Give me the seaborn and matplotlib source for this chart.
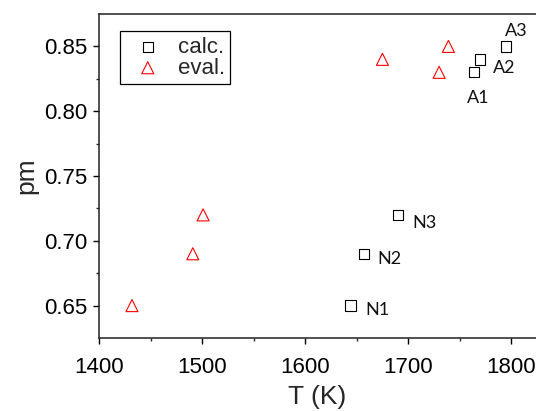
import matplotlib
matplotlib.use("Agg")
import matplotlib.pyplot as plt
import seaborn as sns
import pandas as pd

# calculated values
calc_T = [1644, 1657, 1690, 1764, 1770, 1795]
calc_pm = [0.65, 0.69, 0.72, 0.83, 0.84, 0.85]
calc_names = ["N1", "N2", "N3", "A1", "A2", "A3"]

# evaluated values
eval_T = [1432, 1491, 1501, 1675, 1730, 1739]
eval_pm = [0.65, 0.69, 0.72, 0.84, 0.83, 0.85]

x_ticks = [1400, 1500, 1600, 1700, 1800]
y_ticks = [0.65, 0.70, 0.75, 0.80, 0.85]

sns.set_style("ticks")
plt.rcParams["font.family"] = ["Liberation Sans", "DejaVu Sans"]

calc_df = pd.DataFrame({"T": calc_T, "pm": calc_pm, "name": calc_names})
eval_df = pd.DataFrame({"T": eval_T, "pm": eval_pm})

fig = plt.figure(figsize=(5.36, 4.11), dpi=100)
ax = fig.add_axes([99 / 536, 73 / 411, 437 / 536, 324 / 411])

sns.scatterplot(data=calc_df, x="T", y="pm", ax=ax, marker="s", s=55,
                facecolor="none", edgecolor="black", linewidth=0.8,
                label="calc.", zorder=3)
sns.scatterplot(data=eval_df, x="T", y="pm", ax=ax, marker="^", s=75,
                facecolor="none", edgecolor="#ff0000", linewidth=0.8,
                label="eval.", zorder=3)

# point labels: offset of the label's left edge / vertical centre, in pixels
offsets = {"N1": (15, -4), "N2": (13, -5), "N3": (14, -8),
           "A1": (-7, -26), "A2": (13, -9), "A3": (-1, 15)}
for t, p, n in zip(calc_T, calc_pm, calc_names):
    dx, dy = offsets[n]
    ax.annotate(n, (t, p), xytext=(dx * 0.72, dy * 0.72), textcoords="offset points",
                ha="left", va="center", fontsize=13, family=["Lato", "DejaVu Sans"],
                color="#111111")

ax.set_xlim(1400, 1824)
ax.set_ylim(0.625, 0.875)
ax.set_xticks(x_ticks)
ax.set_yticks(y_ticks)
ax.set_yticklabels([f"{v:.2f}" for v in y_ticks])
ax.set_xticks([1450, 1550, 1650, 1750], minor=True)
ax.set_yticks([0.675, 0.725, 0.775, 0.825], minor=True)

ax.tick_params(axis="both", which="major", direction="out", length=4.5, width=1.0,
               labelsize=16, colors="black")
ax.tick_params(axis="x", which="major", pad=9)
ax.tick_params(axis="y", which="major", pad=4)
ax.tick_params(axis="both", which="minor", direction="out", length=2.5, width=1.0)

for side in ["left", "bottom", "top"]:
    ax.spines[side].set_visible(True)
    ax.spines[side].set_linewidth(1.1)
    ax.spines[side].set_color("#222222")
ax.spines["right"].set_visible(False)

ax.set_xlabel("T (K)", fontsize=19, labelpad=5)
ax.set_ylabel("pm", fontsize=19, labelpad=4)

leg = ax.legend(loc="upper left", bbox_to_anchor=(120 / 536, 1 - 31 / 411),
                bbox_transform=fig.transFigure, borderaxespad=0, fontsize=16,
                frameon=True, fancybox=False, edgecolor="black", framealpha=1,
                handlelength=2.0, handletextpad=0.35, borderpad=0.25,
                labelspacing=0.0)
leg.get_frame().set_linewidth(0.9)

fig.savefig("out.png", dpi=100)
